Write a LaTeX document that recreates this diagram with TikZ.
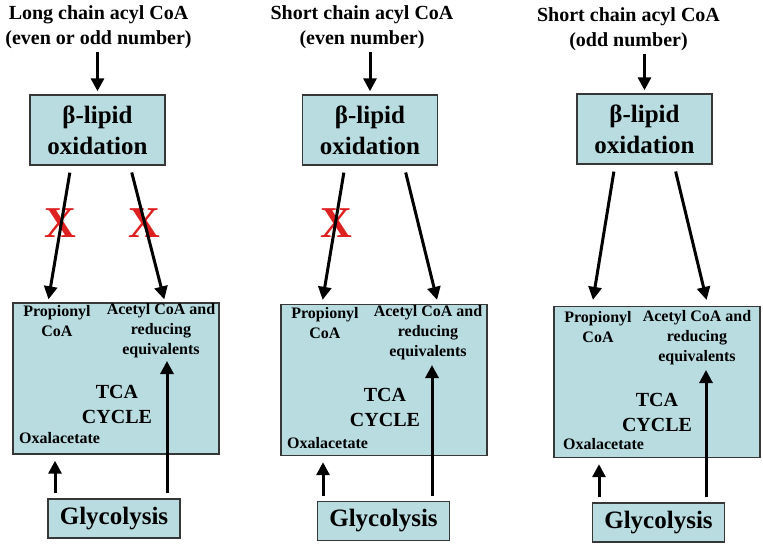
\documentclass[tikz,border=0pt]{standalone}
\usepackage{fontspec}
\setmainfont{Liberation Serif}
\usetikzlibrary{arrows.meta, positioning}
\definecolor{boxblue}{RGB}{184,220,224}
\definecolor{crossred}{RGB}{222,32,32}
\definecolor{boxline}{RGB}{55,55,55}

\begin{document}
\begin{tikzpicture}[x=1pt, y=-1pt,
        title/.style={font=\fontsize{20}{25.5}\selectfont\bfseries, align=center, inner sep=2},
        lipid/.style={draw=boxline, line width=1.4, fill=boxblue, minimum width=135, minimum height=70, font=\fontsize{25}{31}\selectfont\bfseries, align=center, inner sep=0},
        tcabox/.style={draw=boxline, line width=1.4, fill=boxblue, minimum width=206, minimum height=151, inner sep=0},
        glyco/.style={draw=boxline, line width=1.4, fill=boxblue, minimum width=132, minimum height=39, font=\fontsize{25}{30}\selectfont\bfseries, inner sep=0},
        inner/.style={font=\fontsize{16}{20}\selectfont\bfseries, align=center, inner sep=1},
        tca/.style={font=\fontsize{20}{25}\selectfont\bfseries, align=center, inner sep=0},
        crossmark/.style={text=crossred, font=\fontsize{44}{44}\selectfont\bfseries, inner sep=0},
        arr/.style={-{Triangle[length=13pt, width=13pt]}, line width=3pt}]
        \useasboundingbox (0,0) rectangle (763,545);

        % long chain
        \node[title] (t1) at (98.5,27) {Long chain acyl CoA\\(even or odd number)};
        \node[lipid] (b1) at (97.5,130) {β-lipid\\oxidation};
        \node[tcabox] (c1) at (116,378.5) {};
        \node[glyco] (g1) at (114,518.5) {Glycolysis};
        \node[inner] (p1) at (57,321) {Propionyl\\CoA};
        \node[inner] (a1) at (161,331) {Acetyl CoA and\\reducing\\equivalents};
        \node[tca] (k1) at (117,404.5) {TCA\\CYCLE};
        \node[inner, anchor=west] (o1) at (18,438) {Oxalacetate};
        \coordinate (e1) at (167,361);
        \node[crossmark] (x1) at (60,223) {X};
        \node[crossmark] (x2) at (144,223) {X};

        \draw[arr, shorten <=1pt, shorten >=3pt] (b1.north |- t1.south) -- (b1.north);
        \draw[arr, shorten <=7pt, shorten >=3pt] ([xshift=-26.5]b1.south) -- ([xshift=-68]c1.north);
        \draw[arr, shorten <=7pt, shorten >=3pt] ([xshift=32.5]b1.south) -- ([xshift=49]c1.north);
        \draw[arr, shorten <=5pt, shorten >=6pt] ([xshift=-59]g1.north) -- ([xshift=-61]c1.south);
        \draw[arr, shorten <=5pt] (e1 |- g1.north) -- (e1);

        % short chain, even
        \node[title] (t2) at (362,27) {Short chain acyl CoA\\(even number)};
        \node[lipid] (b2) at (370,130) {β-lipid\\oxidation};
        \node[tcabox] (c2) at (384,380) {};
        \node[glyco] (g2) at (383.5,521) {Glycolysis};
        \node[inner] (p2) at (325,323) {Propionyl\\CoA};
        \node[inner] (a2) at (428,333) {Acetyl CoA and\\reducing\\equivalents};
        \node[tca] (k2) at (385,407) {TCA\\CYCLE};
        \node[inner, anchor=west] (o2) at (286,443) {Oxalacetate};
        \coordinate (e2) at (432,365);
        \node[crossmark] (x3) at (336,223) {X};

        \draw[arr, shorten <=1pt, shorten >=3pt] (b2.north |- t2.south) -- (b2.north);
        \draw[arr, shorten <=7pt, shorten >=4pt] ([xshift=-25]b2.south) -- ([xshift=-62]c2.north);
        \draw[arr, shorten <=7pt, shorten >=4pt] ([xshift=34]b2.south) -- ([xshift=54]c2.north);
        \draw[arr, shorten <=5pt, shorten >=6pt] ([xshift=-60.5]g2.north) -- ([xshift=-61]c2.south);
        \draw[arr, shorten <=5pt] (e2 |- g2.north) -- (e2);

        % short chain, odd
        \node[title] (t3) at (628.5,29) {Short chain acyl CoA\\(odd number)};
        \node[lipid] (b3) at (644.5,129) {β-lipid\\oxidation};
        \node[tcabox] (c3) at (657,382) {};
        \node[glyco] (g3) at (658.5,522.5) {Glycolysis};
        \node[inner] (p3) at (598,327) {Propionyl\\CoA};
        \node[inner] (a3) at (697,338) {Acetyl CoA and\\reducing\\equivalents};
        \node[tca] (k3) at (657,412) {TCA\\CYCLE};
        \node[inner, anchor=west] (o3) at (562,444) {Oxalacetate};
        \coordinate (e3) at (706,370);

        \draw[arr, shorten <=1pt, shorten >=3pt] (b3.north |- t3.south) -- (b3.north);
        \draw[arr, shorten <=7pt, shorten >=6pt] ([xshift=-29.5]b3.south) -- ([xshift=-65]c3.north);
        \draw[arr, shorten <=7pt, shorten >=6pt] ([xshift=29.5]b3.south) -- ([xshift=51]c3.north);
        \draw[arr, shorten <=5pt, shorten >=6pt] ([xshift=-59.5]g3.north) -- ([xshift=-58]c3.south);
        \draw[arr, shorten <=5pt] (e3 |- g3.north) -- (e3);
      \end{tikzpicture}
\end{document}
